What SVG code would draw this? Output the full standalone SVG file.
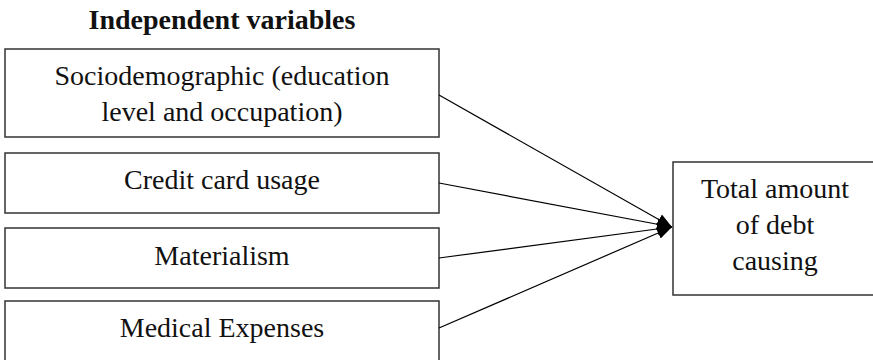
<svg xmlns="http://www.w3.org/2000/svg" width="873" height="360" viewBox="0 0 873 360">
<style>
.box{fill:#fff;stroke:#333;stroke-width:1.5}
.t{font-family:"Liberation Serif","Times New Roman",serif;font-size:28px;fill:#111;text-anchor:middle}
.title{font-weight:bold}
.edge{stroke:#000;stroke-width:1.2;fill:none}
</style>
<defs>
<marker id="ah" markerUnits="userSpaceOnUse" markerWidth="16" markerHeight="14" refX="15" refY="6.5" orient="auto">
<path d="M0,0.5 L15,6.5 L0,12.5 Z" fill="#000"/>
</marker>
</defs>
<text class="t title" x="222" y="29">Independent variables</text>
<g id="n1">
<rect class="box" x="5" y="49" width="434" height="88"/>
<text class="t" x="222" y="85">Sociodemographic (education</text>
<text class="t" x="222" y="121">level and occupation)</text>
</g>
<g id="n2">
<rect class="box" x="5" y="153" width="434" height="60"/>
<text class="t" x="222" y="189">Credit card usage</text>
</g>
<g id="n3">
<rect class="box" x="5" y="228" width="434" height="60"/>
<text class="t" x="222" y="265">Materialism</text>
</g>
<g id="n4">
<rect class="box" x="5" y="301" width="434" height="80"/>
<text class="t" x="222" y="337">Medical Expenses</text>
</g>
<g id="n5">
<rect class="box" x="673" y="162" width="220" height="133"/>
<text class="t" x="775" y="198">Total amount</text>
<text class="t" x="775" y="234">of debt</text>
<text class="t" x="775" y="270">causing</text>
</g>
<g id="edges">
<line class="edge" x1="439" y1="95" x2="672" y2="227" marker-end="url(#ah)"/>
<line class="edge" x1="439" y1="183" x2="672" y2="227" marker-end="url(#ah)"/>
<line class="edge" x1="439" y1="258" x2="672" y2="227" marker-end="url(#ah)"/>
<line class="edge" x1="439" y1="328" x2="672" y2="227" marker-end="url(#ah)"/>
</g>
</svg>
